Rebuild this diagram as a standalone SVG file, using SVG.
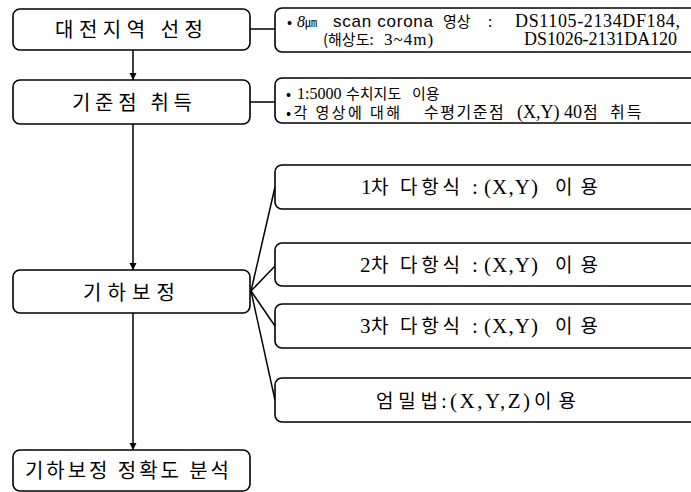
<svg xmlns="http://www.w3.org/2000/svg" width="691" height="492" viewBox="0 0 691 492">
<style>
.box{fill:#fff;stroke:#000;stroke-width:1.6}
.ln{fill:none;stroke:#000;stroke-width:1.5}
.kr{font-family:"Noto Sans CJK KR","Noto Sans",sans-serif;font-size:20px;fill:#000}
.info{font-family:"Noto Sans CJK KR","Noto Sans",sans-serif;font-size:15px;fill:#000}
.tm{font-family:"Liberation Serif","Noto Sans CJK KR",serif}
.sans{font-family:"Liberation Sans","Noto Sans CJK KR",sans-serif}
.br{font-family:"Noto Sans CJK KR","Noto Sans",sans-serif;font-size:19px;fill:#000}
</style>
<defs>
<marker id="ah" viewBox="0 0 10 10" refX="10" refY="5" markerWidth="7" markerHeight="8" markerUnits="userSpaceOnUse" orient="auto">
<path d="M0,0 L10,5 L0,10 Z" fill="#000"/>
</marker>
</defs>
<rect width="691" height="492" fill="#fff"/>
<g id="connectors">
<line class="ln" x1="133" y1="50" x2="133" y2="80" marker-end="url(#ah)"/>
<line class="ln" x1="133" y1="124" x2="133" y2="270" marker-end="url(#ah)"/>
<line class="ln" x1="133" y1="313" x2="133" y2="450" marker-end="url(#ah)"/>
<line class="ln" x1="250" y1="29" x2="275" y2="29" stroke-width="2"/>
<line class="ln" x1="250" y1="102" x2="275" y2="102" stroke-width="2"/>
<line class="ln" x1="251" y1="291" x2="275" y2="187" stroke-width="2"/>
<line class="ln" x1="251" y1="291" x2="275" y2="266"/>
<line class="ln" x1="251" y1="291" x2="275" y2="326"/>
<line class="ln" x1="251" y1="291" x2="275" y2="400"/>
</g>
<g id="n1">
<rect class="box" x="13" y="9" width="237" height="41" rx="7"/>
<text class="kr" x="55" y="37" textLength="148" lengthAdjust="spacing">대전지역 선정</text>
</g>
<g id="n2">
<rect class="box" x="13" y="80" width="237" height="44" rx="7"/>
<text class="kr" x="72" y="110" textLength="120" lengthAdjust="spacing">기준점 취득</text>
</g>
<g id="n3">
<rect class="box" x="13" y="270" width="237" height="43" rx="7"/>
<text class="kr" x="83" y="300" textLength="92" lengthAdjust="spacing">기하보정</text>
</g>
<g id="n4">
<rect class="box" x="13" y="450" width="237" height="41" rx="7"/>
<text class="kr" x="25" y="478" font-size="18" textLength="204" lengthAdjust="spacing">기하보정 정확도 분석</text>
</g>
<g id="info1">
<rect class="box" x="275" y="8" width="430" height="44" rx="7"/>
<text class="info" y="27"><tspan x="287">•</tspan><tspan x="297" class="tm" font-size="16" font-style="italic">8</tspan><tspan x="305" font-size="12">㎛</tspan><tspan x="333" class="sans" font-size="17" textLength="100" lengthAdjust="spacing">scan corona</tspan><tspan x="443">영상</tspan><tspan x="488">:</tspan><tspan x="515" class="tm" font-size="18" textLength="165" lengthAdjust="spacing">DS1105-2134DF184,</tspan></text>
<text class="info" y="45"><tspan x="323">(해상도:</tspan><tspan x="384" class="tm" font-size="17" letter-spacing="1">3~4m)</tspan><tspan x="524" class="tm" font-size="18" textLength="153" lengthAdjust="spacing">DS1026-2131DA120</tspan></text>
</g>
<g id="info2">
<rect class="box" x="275" y="78" width="430" height="45" rx="7"/>
<text class="info" y="99"><tspan x="286">•</tspan><tspan x="297" class="tm" font-size="16">1:5000</tspan><tspan x="346">수치지도</tspan><tspan x="412">이용</tspan></text>
<text class="info" y="118"><tspan x="286" textLength="114" lengthAdjust="spacing">•각 영상에 대해</tspan><tspan x="424" font-size="16" letter-spacing="1.5">수평기준점</tspan><tspan x="517" class="tm" font-size="18">(X,Y)</tspan><tspan x="564" class="tm" font-size="18">40</tspan><tspan x="583" font-size="16">점</tspan><tspan x="610" font-size="16" letter-spacing="2">취득</tspan></text>
</g>
<g id="b1">
<rect class="box" x="275" y="165" width="430" height="44" rx="7"/>
<text class="br" y="194"><tspan x="361" class="tm" font-size="21">1</tspan><tspan x="371">차</tspan><tspan x="400" textLength="60" lengthAdjust="spacing">다항식</tspan><tspan x="472" class="tm" font-size="21">:</tspan><tspan x="484" class="tm" font-size="21" textLength="54" lengthAdjust="spacing">(X,Y)</tspan><tspan x="555" textLength="43" lengthAdjust="spacing">이용</tspan></text>
</g>
<g id="b2">
<rect class="box" x="275" y="243" width="430" height="43" rx="7"/>
<text class="br" y="272"><tspan x="360" class="tm" font-size="21">2</tspan><tspan x="371">차</tspan><tspan x="400" textLength="60" lengthAdjust="spacing">다항식</tspan><tspan x="472" class="tm" font-size="21">:</tspan><tspan x="484" class="tm" font-size="21" textLength="54" lengthAdjust="spacing">(X,Y)</tspan><tspan x="555" textLength="43" lengthAdjust="spacing">이용</tspan></text>
</g>
<g id="b3">
<rect class="box" x="275" y="304" width="430" height="44" rx="7"/>
<text class="br" y="333"><tspan x="360" class="tm" font-size="21">3</tspan><tspan x="371">차</tspan><tspan x="400" textLength="60" lengthAdjust="spacing">다항식</tspan><tspan x="472" class="tm" font-size="21">:</tspan><tspan x="484" class="tm" font-size="21" textLength="54" lengthAdjust="spacing">(X,Y)</tspan><tspan x="555" textLength="43" lengthAdjust="spacing">이용</tspan></text>
</g>
<g id="b4">
<rect class="box" x="275" y="378" width="430" height="44" rx="7"/>
<text class="br" y="408"><tspan x="376" textLength="62" lengthAdjust="spacing">엄밀법</tspan><tspan x="441" class="tm" font-size="21">:</tspan><tspan x="450" class="tm" font-size="21" textLength="80" lengthAdjust="spacing">(X,Y,Z)</tspan><tspan x="534" textLength="42" lengthAdjust="spacing">이용</tspan></text>
</g>
</svg>
